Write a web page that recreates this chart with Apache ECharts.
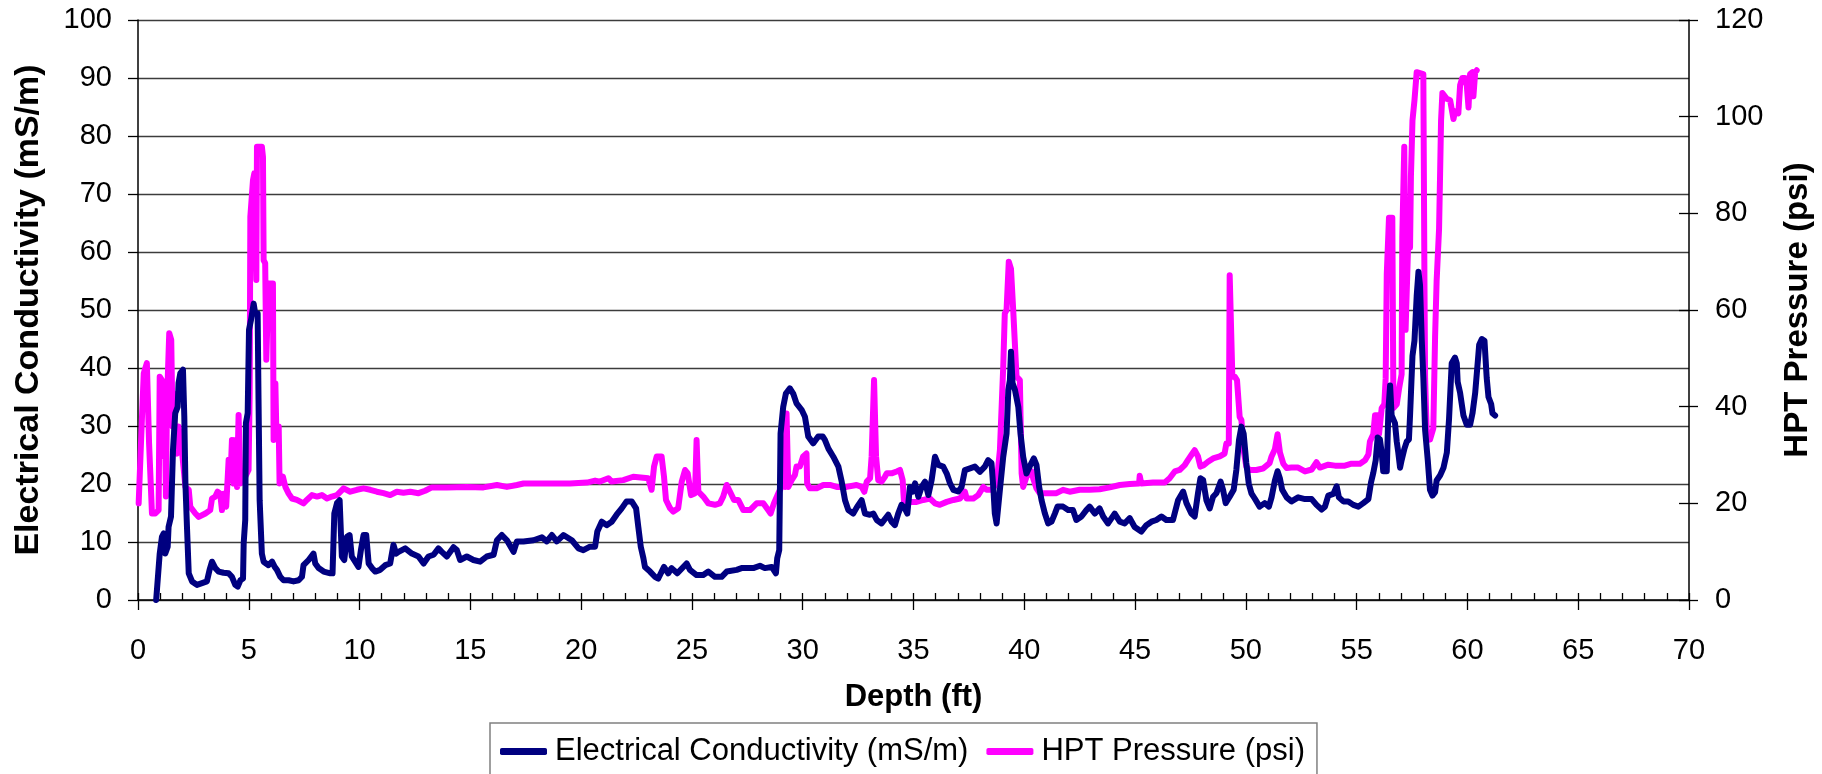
<!DOCTYPE html>
<html>
<head>
<meta charset="utf-8">
<title>Electrical Conductivity and HPT Pressure vs Depth</title>
<script src="https://cdn.jsdelivr.net/npm/echarts@6/dist/echarts.min.js"></script>
<style>
  html, body { margin: 0; padding: 0; background: #ffffff; }
  #chart { width: 1822px; height: 774px; }
</style>
</head>
<body>
<div id="chart"></div>
<script>
// Depth ticks (ft)
const depthTicks = [0, 5, 10, 15, 20, 25, 30, 35, 40, 45, 50, 55, 60, 65, 70];

// Electrical conductivity log: depth (ft) and EC (mS/m)
const ecDepth = [
  0.82, 0.98, 1.08, 1.16, 1.23, 1.34, 1.38, 1.49, 1.58, 1.68, 1.79, 1.83, 1.91, 2.03, 2.09, 2.14, 2.21, 2.29, 2.44, 2.66,
  2.89, 3.11, 3.23, 3.34, 3.49, 3.64, 3.86, 4.09, 4.24, 4.39, 4.50, 4.62, 4.74, 4.77, 4.84, 4.87, 4.95, 5.01, 5.10, 5.22,
  5.29, 5.40, 5.44, 5.49, 5.59, 5.67, 5.89, 6.05, 6.17, 6.27, 6.42, 6.57, 6.80, 7.02, 7.25, 7.40, 7.47, 7.70, 7.92, 8.00,
  8.15, 8.38, 8.68, 8.78, 8.86, 8.98, 9.10, 9.20, 9.31, 9.43, 9.55, 9.65, 9.80, 9.95, 10.06, 10.18, 10.30, 10.41, 10.56, 10.71,
  10.93, 11.16, 11.38, 11.53, 11.65, 11.76, 12.06, 12.36, 12.66, 12.89, 13.11, 13.34, 13.56, 13.71, 13.94, 14.24, 14.39, 14.54, 14.84, 15.14,
  15.44, 15.74, 16.05, 16.20, 16.42, 16.65, 16.95, 17.10, 17.40, 17.85, 18.23, 18.45, 18.68, 18.90, 19.20, 19.58, 19.88, 20.10, 20.40, 20.63,
  20.73, 20.93, 21.15, 21.38, 21.60, 21.83, 22.05, 22.28, 22.48, 22.58, 22.69, 22.81, 22.88, 23.11, 23.33, 23.48, 23.74, 23.93, 24.08, 24.34,
  24.61, 24.76, 24.91, 25.21, 25.51, 25.74, 26.04, 26.34, 26.57, 27.02, 27.24, 27.77, 28.07, 28.29, 28.60, 28.79, 28.85, 28.94, 29.00, 29.12,
  29.24, 29.42, 29.57, 29.72, 29.95, 30.10, 30.25, 30.47, 30.70, 30.90, 31.00, 31.16, 31.38, 31.61, 31.76, 31.91, 32.06, 32.28, 32.46, 32.66,
  32.81, 33.03, 33.19, 33.34, 33.56, 33.86, 34.01, 34.16, 34.31, 34.46, 34.61, 34.72, 34.84, 34.96, 35.07, 35.22, 35.37, 35.52, 35.67, 35.82,
  35.97, 36.12, 36.34, 36.50, 36.65, 36.80, 37.02, 37.17, 37.32, 37.55, 37.77, 38.00, 38.22, 38.37, 38.52, 38.60, 38.67, 38.75, 38.90, 39.05,
  39.20, 39.28, 39.35, 39.40, 39.47, 39.58, 39.73, 39.83, 39.95, 40.10, 40.28, 40.43, 40.55, 40.67, 40.78, 40.93, 41.08, 41.23, 41.38, 41.50,
  41.75, 41.98, 42.20, 42.35, 42.58, 42.80, 42.95, 43.18, 43.40, 43.56, 43.78, 44.08, 44.31, 44.53, 44.76, 44.98, 45.28, 45.51, 45.74, 45.96,
  46.19, 46.41, 46.71, 46.94, 47.17, 47.32, 47.54, 47.69, 47.84, 47.95, 48.07, 48.22, 48.37, 48.52, 48.67, 48.86, 48.97, 49.09, 49.27, 49.45,
  49.57, 49.69, 49.80, 49.90, 50.02, 50.13, 50.25, 50.40, 50.62, 50.85, 51.04, 51.16, 51.31, 51.43, 51.54, 51.64, 51.84, 52.06, 52.36, 52.67,
  52.97, 53.19, 53.42, 53.57, 53.72, 53.95, 54.10, 54.20, 54.40, 54.62, 54.85, 55.08, 55.30, 55.53, 55.65, 55.75, 55.86, 55.95, 56.05, 56.13,
  56.20, 56.36, 56.43, 56.51, 56.58, 56.73, 56.81, 56.88, 56.96, 57.03, 57.15, 57.26, 57.36, 57.41, 57.52, 57.61, 57.71, 57.79, 57.86, 57.94,
  58.01, 58.09, 58.21, 58.31, 58.42, 58.54, 58.61, 58.77, 58.92, 59.07, 59.17, 59.29, 59.44, 59.52, 59.56, 59.67, 59.82, 59.97, 60.12, 60.23,
  60.35, 60.47, 60.53, 60.65, 60.77, 60.87, 60.95, 61.07, 61.13, 61.25
];
const ecValue = [
  0.0, 8.0, 10.9, 11.5, 8.0, 9.2, 12.6, 14.4, 25.9, 32.2, 33.3, 37.4, 39.1, 39.7, 31.6, 20.1, 12.6, 4.6, 3.2, 2.6,
  2.9, 3.2, 5.2, 6.6, 5.5, 4.9, 4.7, 4.6, 4.0, 2.6, 2.3, 3.4, 3.7, 9.8, 13.8, 30.5, 32.2, 46.6, 48.3, 51.1,
  49.4, 49.4, 34.5, 17.2, 8.0, 6.6, 6.0, 6.6, 5.7, 5.2, 4.0, 3.4, 3.4, 3.2, 3.4, 4.0, 6.0, 6.9, 8.0, 6.3,
  5.5, 4.9, 4.6, 4.6, 14.9, 16.7, 17.2, 7.5, 6.9, 10.9, 11.2, 7.5, 6.6, 5.7, 8.6, 11.2, 11.2, 6.3, 5.5, 4.9,
  5.2, 6.0, 6.3, 9.5, 8.0, 8.3, 8.9, 8.0, 7.5, 6.3, 7.5, 7.8, 8.9, 8.3, 7.5, 9.1, 8.6, 6.9, 7.5, 6.9,
  6.6, 7.5, 7.8, 10.3, 11.2, 10.3, 8.3, 10.1, 10.1, 10.3, 10.8, 10.1, 11.2, 10.1, 11.2, 10.3, 8.9, 8.6, 9.2, 9.2,
  11.8, 13.5, 12.9, 13.5, 14.7, 15.8, 17.0, 17.0, 15.8, 12.6, 9.2, 7.2, 5.7, 4.9, 4.0, 3.7, 5.7, 4.6, 5.5, 4.6,
  5.7, 6.3, 5.2, 4.3, 4.3, 4.9, 4.0, 4.0, 4.9, 5.2, 5.5, 5.5, 5.9, 5.5, 5.7, 4.6, 7.2, 8.6, 28.7, 33.3,
  35.6, 36.5, 35.6, 33.9, 32.8, 31.6, 28.2, 27.0, 28.2, 28.2, 27.6, 26.1, 24.7, 23.0, 20.4, 17.2, 15.5, 14.9, 16.1, 17.2,
  14.9, 14.7, 14.9, 13.8, 13.2, 14.7, 13.5, 12.9, 14.9, 16.4, 15.8, 14.9, 19.5, 18.7, 20.1, 17.8, 19.5, 20.4, 18.1, 20.7,
  24.7, 23.3, 23.0, 21.8, 20.1, 19.0, 18.7, 19.5, 22.4, 22.7, 23.0, 22.1, 23.0, 24.1, 23.6, 19.5, 14.9, 13.2, 19.0, 24.7,
  28.7, 36.2, 37.9, 42.8, 37.4, 36.2, 33.3, 28.7, 24.7, 21.8, 23.3, 24.4, 23.3, 19.5, 17.2, 14.9, 13.2, 13.5, 14.9, 16.1,
  16.1, 15.5, 15.5, 13.8, 14.4, 15.5, 16.1, 14.9, 15.8, 14.4, 13.2, 14.9, 13.5, 13.2, 14.1, 12.6, 11.8, 12.9, 13.5, 13.8,
  14.4, 13.8, 13.8, 17.2, 18.7, 16.7, 14.9, 14.4, 18.4, 21.0, 20.7, 17.2, 15.8, 17.8, 18.4, 20.4, 19.0, 16.7, 17.8, 19.0,
  22.4, 27.6, 29.9, 28.7, 23.6, 20.1, 18.4, 17.5, 16.1, 16.7, 16.1, 17.7, 20.6, 22.2, 20.9, 19.0, 17.7, 17.0, 17.7, 17.4,
  17.4, 16.4, 15.6, 16.1, 18.0, 18.3, 19.6, 17.7, 17.0, 17.0, 16.4, 16.1, 16.7, 17.4, 20.3, 21.9, 24.1, 28.0, 27.7, 25.4,
  22.2, 22.2, 32.5, 37.0, 31.8, 30.5, 27.3, 25.4, 22.8, 24.1, 26.0, 27.3, 27.7, 31.8, 42.1, 44.7, 52.4, 56.6, 54.3, 44.7,
  38.3, 29.3, 24.1, 19.0, 18.0, 18.6, 20.6, 21.5, 22.8, 25.4, 31.2, 40.8, 41.8, 40.8, 37.6, 35.7, 31.8, 30.2, 30.2, 32.2,
  35.7, 41.2, 44.0, 45.0, 44.7, 38.3, 35.0, 33.8, 32.2, 31.8
];

// HPT pressure log: depth (ft) and pressure (psi)
const hptDepth = [
  0.03, 0.18, 0.26, 0.40, 0.50, 0.63, 0.78, 0.93, 0.98, 1.08, 1.16, 1.20, 1.26, 1.31, 1.41, 1.50, 1.56, 1.60, 1.68, 1.76,
  1.83, 1.91, 1.98, 2.14, 2.29, 2.36, 2.59, 2.74, 3.04, 3.26, 3.34, 3.49, 3.59, 3.71, 3.79, 3.86, 3.98, 4.09, 4.17, 4.24,
  4.32, 4.39, 4.47, 4.54, 4.62, 4.69, 4.84, 4.99, 5.04, 5.07, 5.19, 5.25, 5.34, 5.37, 5.59, 5.64, 5.67, 5.74, 5.79, 5.85,
  5.89, 6.09, 6.12, 6.20, 6.24, 6.35, 6.39, 6.54, 6.65, 6.80, 6.95, 7.17, 7.47, 7.62, 7.85, 8.08, 8.30, 8.53, 8.75, 8.98,
  9.28, 9.58, 9.88, 10.18, 10.48, 10.78, 11.08, 11.38, 11.68, 11.98, 12.29, 12.66, 12.96, 13.26, 13.94, 14.84, 15.59, 16.20, 16.65, 17.10,
  17.40, 18.15, 18.75, 19.50, 20.26, 20.63, 20.85, 21.23, 21.38, 21.90, 22.35, 23.03, 23.18, 23.29, 23.41, 23.63, 23.74, 23.83, 24.01, 24.16,
  24.38, 24.54, 24.69, 24.81, 24.96, 25.14, 25.21, 25.29, 25.51, 25.74, 26.04, 26.26, 26.41, 26.57, 26.72, 26.90, 27.09, 27.32, 27.62, 27.92,
  28.22, 28.44, 28.55, 28.70, 28.90, 29.09, 29.20, 29.27, 29.35, 29.50, 29.65, 29.72, 29.87, 30.02, 30.17, 30.20, 30.32, 30.63, 30.93, 31.23,
  31.53, 31.98, 32.43, 32.66, 32.78, 32.89, 33.04, 33.11, 33.22, 33.31, 33.41, 33.56, 33.71, 33.79, 34.01, 34.24, 34.39, 34.51, 34.57, 34.76,
  35.14, 35.44, 35.74, 35.97, 36.19, 36.50, 36.80, 37.10, 37.32, 37.40, 37.70, 37.92, 38.15, 38.30, 38.52, 38.75, 38.90, 39.05, 39.12, 39.20,
  39.30, 39.40, 39.50, 39.65, 39.80, 39.88, 39.95, 40.10, 40.33, 40.40, 40.55, 40.70, 41.16, 41.45, 41.75, 42.05, 42.50, 42.95, 43.40, 43.86,
  44.31, 44.76, 45.18, 45.21, 45.28, 45.81, 46.34, 46.56, 46.79, 47.01, 47.24, 47.39, 47.54, 47.69, 47.84, 47.95, 48.10, 48.29, 48.52, 48.82,
  49.04, 49.12, 49.23, 49.27, 49.35, 49.39, 49.50, 49.60, 49.72, 49.80, 49.90, 50.02, 50.17, 50.47, 50.77, 51.07, 51.16, 51.31, 51.43, 51.54,
  51.69, 51.84, 52.06, 52.36, 52.67, 52.97, 53.19, 53.34, 53.72, 54.02, 54.47, 54.77, 55.15, 55.38, 55.53, 55.60, 55.75, 55.83, 55.95, 56.01,
  56.13, 56.25, 56.31, 56.36, 56.46, 56.61, 56.66, 56.81, 56.91, 57.03, 57.06, 57.15, 57.21, 57.33, 57.41, 57.45, 57.52, 57.61, 57.71, 58.01,
  58.06, 58.09, 58.16, 58.31, 58.46, 58.54, 58.61, 58.72, 58.77, 58.81, 58.87, 58.96, 59.07, 59.22, 59.37, 59.44, 59.59, 59.67, 59.77, 59.89,
  59.97, 60.05, 60.12, 60.23, 60.27, 60.35, 60.42
];
const hptValue = [
  20.0, 37.9, 46.9, 49.0, 32.4, 17.9, 17.9, 18.6, 46.2, 45.5, 29.7, 42.8, 21.4, 41.4, 55.2, 53.8, 35.9, 42.8, 31.0, 30.3,
  35.9, 35.9, 31.0, 23.4, 22.8, 19.3, 17.9, 17.2, 17.9, 18.6, 21.0, 21.4, 22.4, 22.0, 18.6, 22.0, 19.3, 29.0, 24.8, 33.1,
  24.1, 33.1, 23.4, 38.3, 24.1, 24.8, 25.5, 26.9, 42.8, 79.3, 86.9, 88.3, 66.2, 93.8, 93.8, 91.7, 70.3, 69.7, 49.7, 49.7,
  65.5, 65.5, 33.1, 44.8, 35.9, 35.9, 24.1, 25.5, 23.4, 22.0, 21.0, 20.7, 20.0, 20.7, 21.7, 21.4, 21.7, 21.0, 21.4, 21.7,
  23.1, 22.4, 22.8, 23.1, 22.8, 22.4, 22.1, 21.7, 22.4, 22.2, 22.4, 22.1, 22.6, 23.3, 23.3, 23.4, 23.3, 23.8, 23.4, 23.8,
  24.1, 24.1, 24.1, 24.1, 24.3, 24.7, 24.5, 25.2, 24.5, 24.8, 25.5, 25.2, 22.8, 27.6, 29.7, 29.7, 25.5, 20.7, 19.0, 18.3,
  19.0, 24.5, 26.9, 26.2, 21.7, 22.1, 33.1, 22.4, 21.4, 20.0, 19.7, 20.0, 21.4, 23.8, 22.4, 20.7, 20.7, 18.6, 18.6, 20.0,
  20.0, 18.6, 17.9, 20.0, 22.1, 23.8, 23.4, 38.6, 23.4, 24.8, 25.9, 27.6, 27.6, 29.7, 30.3, 24.1, 23.1, 23.1, 23.8, 23.8,
  23.4, 23.4, 23.8, 23.4, 22.4, 24.5, 25.2, 29.7, 45.5, 29.7, 24.8, 24.5, 25.5, 26.2, 26.2, 26.6, 26.9, 24.8, 20.3, 20.3,
  20.3, 20.7, 21.0, 20.0, 19.7, 20.3, 20.7, 21.0, 22.4, 21.0, 21.0, 21.7, 23.4, 22.8, 22.8, 24.1, 31.0, 48.3, 59.3, 60.0,
  70.0, 68.5, 60.0, 46.2, 45.5, 26.2, 23.4, 25.5, 26.6, 25.2, 23.1, 22.1, 22.1, 22.1, 22.8, 22.4, 22.8, 22.8, 22.9, 23.3,
  23.8, 24.0, 24.1, 25.7, 24.1, 24.3, 24.3, 25.2, 26.6, 26.9, 27.9, 29.0, 30.0, 31.0, 29.7, 27.6, 27.9, 28.6, 29.3, 29.7,
  30.3, 32.4, 32.4, 67.2, 67.2, 46.2, 46.2, 45.5, 37.9, 37.2, 31.0, 27.6, 26.9, 26.9, 27.2, 28.3, 29.7, 31.2, 34.3, 30.5,
  28.2, 27.3, 27.4, 27.4, 26.6, 27.0, 28.5, 27.4, 28.0, 27.8, 27.8, 28.2, 28.2, 28.9, 30.1, 32.8, 34.3, 38.2, 38.2, 34.3,
  39.7, 40.5, 45.9, 67.5, 79.1, 79.1, 39.7, 40.5, 43.6, 46.7, 75.2, 93.8, 55.9, 74.5, 72.9, 87.6, 99.2, 103.4, 109.2, 108.8,
  66.0, 45.9, 35.1, 33.2, 35.5, 54.4, 66.0, 76.8, 89.1, 99.2, 104.9, 104.9, 103.7, 103.4, 99.5, 101.1, 100.7, 106.5, 108.0, 108.0,
  106.5, 101.9, 108.8, 109.2, 104.2, 109.2, 109.6
];

const EC_NAME = 'Electrical Conductivity (mS/m)';
const HPT_NAME = 'HPT Pressure (psi)';
const FONT = '"Liberation Sans", Arial, Helvetica, sans-serif';

const pairs = (xs, ys) => xs.map((x, i) => [x, ys[i]]);

const chart = echarts.init(document.getElementById('chart'), null, { renderer: 'canvas' });

const tickStyle = { color: '#000000', width: 1.3 };

chart.setOption({
  animation: false,
  backgroundColor: '#ffffff',
  textStyle: { fontFamily: FONT },
  grid: { left: 138, right: 132, top: 20, bottom: 174, containLabel: false },
  legend: {
    data: [EC_NAME, HPT_NAME],
    left: 490,
    top: 723,
    orient: 'horizontal',
    padding: [13, 12, 24, 10],
    itemGap: 18,
    itemWidth: 47,
    itemHeight: 7,
    icon: 'roundRect',
    borderColor: '#808080',
    borderWidth: 1.5,
    textStyle: { fontSize: 31, color: '#000000', fontFamily: FONT, padding: [0, 0, 0, 3] }
  },
  xAxis: [
    {
      type: 'value', min: depthTicks[0], max: depthTicks[depthTicks.length - 1], interval: 5,
      position: 'bottom',
      axisLine: { show: true, onZero: false, lineStyle: { color: '#000000', width: 1.5 } },
      axisTick: { show: true, inside: true, length: 7, lineStyle: tickStyle },
      minorTick: { show: true, splitNumber: 5, length: 7, lineStyle: tickStyle },
      splitLine: { show: false },
      axisLabel: { margin: 36, fontSize: 29, color: '#000000', fontFamily: FONT },
      name: 'Depth (ft)', nameLocation: 'middle', nameGap: 82,
      nameTextStyle: { fontSize: 31, fontWeight: 'bold', color: '#000000', fontFamily: FONT }
    },
    {
      type: 'value', min: depthTicks[0], max: depthTicks[depthTicks.length - 1], interval: 5,
      position: 'bottom',
      axisLine: { show: false, onZero: false },
      axisTick: { show: true, inside: false, length: 10, lineStyle: tickStyle },
      axisLabel: { show: false },
      splitLine: { show: false }
    }
  ],
  yAxis: [
    {
      type: 'value', min: 0, max: 100, interval: 10, position: 'left',
      axisLine: { show: true, onZero: false, lineStyle: { color: '#000000', width: 1.5 } },
      axisTick: { show: true, inside: false, length: 10, lineStyle: tickStyle },
      axisLabel: { margin: 26, fontSize: 29, color: '#000000', fontFamily: FONT },
      splitLine: { show: true, lineStyle: { color: '#3c3c3c', width: 1.3 } },
      name: EC_NAME, nameLocation: 'middle', nameGap: 92, nameRotate: 90,
      nameTextStyle: { fontSize: 34, fontWeight: 'bold', color: '#000000', fontFamily: FONT }
    },
    {
      type: 'value', min: 0, max: 120, interval: 20, position: 'right',
      axisLine: { show: true, onZero: false, lineStyle: { color: '#000000', width: 1.5 } },
      axisTick: { show: true, inside: false, length: 9, lineStyle: tickStyle },
      axisLabel: { margin: 26, fontSize: 29, color: '#000000', fontFamily: FONT },
      splitLine: { show: false },
      name: HPT_NAME, nameLocation: 'middle', nameGap: 92, nameRotate: 90,
      nameTextStyle: { fontSize: 33, fontWeight: 'bold', color: '#000000', fontFamily: FONT }
    },
    {
      type: 'value', min: 0, max: 120, interval: 20, position: 'right',
      axisLine: { show: false, onZero: false },
      axisTick: { show: true, inside: true, length: 10, lineStyle: tickStyle },
      axisLabel: { show: false },
      splitLine: { show: false }
    }
  ],
  series: [
    {
      name: HPT_NAME, type: 'line', xAxisIndex: 0, yAxisIndex: 1,
      data: pairs(hptDepth, hptValue),
      showSymbol: false, symbol: 'none', z: 2,
      lineStyle: { color: '#ff00ff', width: 6, join: 'round', cap: 'round' },
      itemStyle: { color: '#ff00ff' }
    },
    {
      name: EC_NAME, type: 'line', xAxisIndex: 0, yAxisIndex: 0,
      data: pairs(ecDepth, ecValue),
      showSymbol: false, symbol: 'none', z: 3,
      lineStyle: { color: '#000080', width: 6, join: 'round', cap: 'round' },
      itemStyle: { color: '#000080' }
    }
  ]
});
</script>
</body>
</html>
